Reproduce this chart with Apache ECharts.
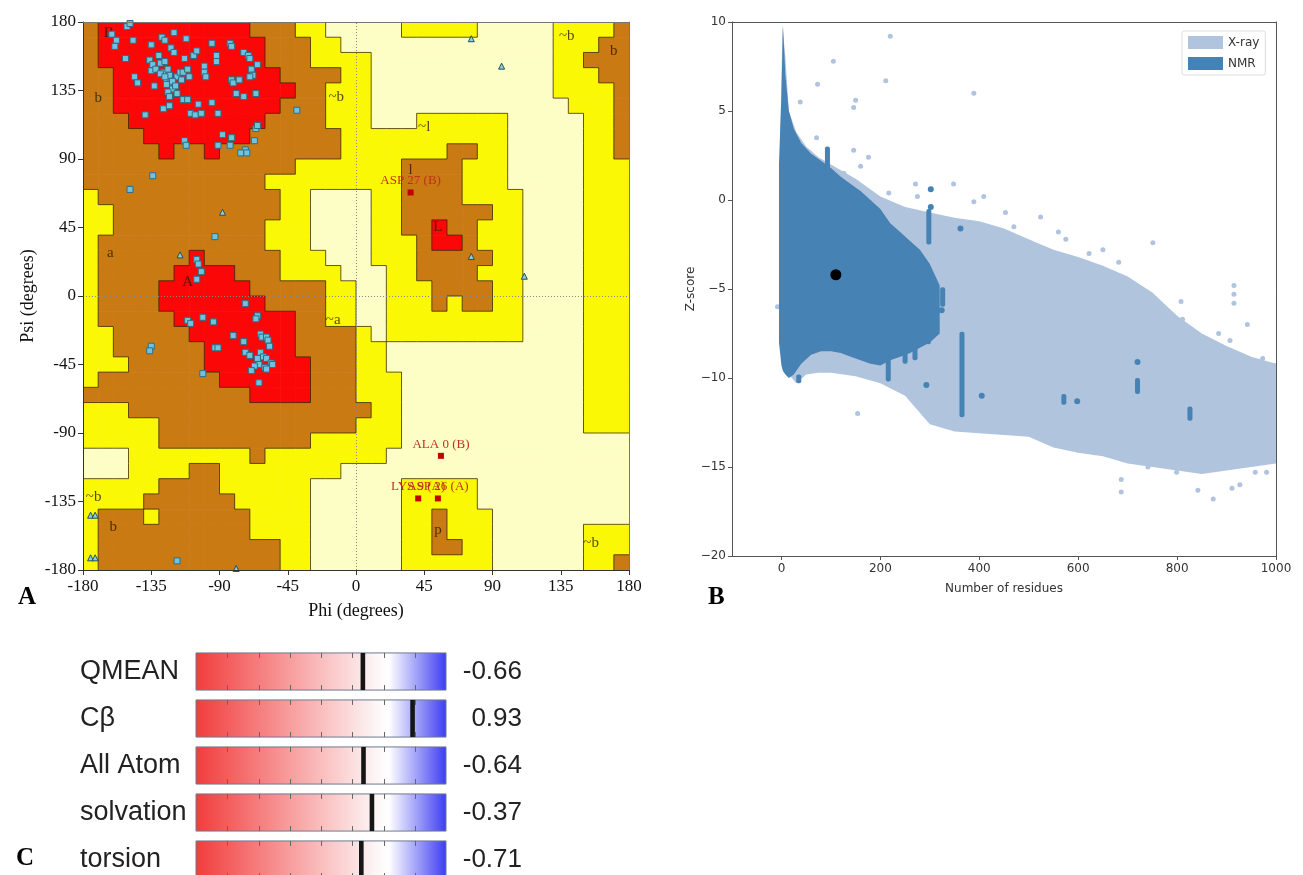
<!DOCTYPE html>
<html>
<head>
<meta charset="utf-8">
<script src="https://cdn.jsdelivr.net/npm/echarts@6/dist/echarts.min.js"></script>
<style>
html, body { margin: 0; padding: 0; background: #fff; }
#chart { width: 1303px; height: 875px; }
</style>
</head>
<body>
<div id="chart"></div>
<script>
// ---------- Panel A: Ramachandran plot ----------
// one string per 10 degree psi row, from psi 180 (top) down to -180, 36 cells of phi each
// 0 = disallowed, 1 = generously allowed, 2 = allowed, 3 = most favoured
var regionRows = [
    '2 3333333333 2 22 11 00000 11111 00000 1111 2',
    '2 33333333333 222 11 00000000000000 11 1 2 2',
    '2 33333333333 222 1111 000000000000 11 222',
    '22 33333333333 2222 11 000000000000 111 22',
    '22 333333333333 22 111 000000000000 1111 2',
    '22 33333333333 222 111 0000000000000 111 2',
    '222 333333333 2222 111 000 111111 00000 11 2',
    '2222 3333333 222222 11 111111111 00000 11 2',
    '22222 3 22 3 22222222 11 11111 22 11 00000 11 2',
    '22222222222222 11111 11 2222 111 00000 111',
    '222222222222 1111111 11 2222 111 00000 111',
    '1 222222222222 11 0000 11 2222 1111 0000 111',
    '11 22222222222 11 0000 11 222222 11 0000 111',
    '11 2222222222 111 0000 11 22 3 22 111 0000 111',
    '1 22222222222 111 0000 111 2 33 2 111 0000 111',
    '1 222222 3 22222 111 000 111 22222 11 0000 111',
    '1 22222 3333 222 1111 000 11 2222 111 0000 111',
    '1 2222 333333 22222 11 00 111 2222 11 0000 111',
    '1 2222 3333333 2222 11 00 111 2 1 22 11 0000 111',
    '1 22222 33333333 22 11 00 111111111 0000 111',
    '11 22222 3333333 2222 1 0 111111111 0000 111',
    '11 222222 333333 2222 11 0000000000000 111',
    '111 22222 3333333 222 11 0000000000000 111',
    '1 22222222 333333 222 111 000000000000 111',
    '22222222222 3333 222 111 000000000000 111',
    '111 2222222222222222 11 000000000000 111',
    '11111 2222222222222 111 000000000000 111',
    '11111 2222222222 111111 000000000000000',
    '000 11111111 2 11111111 0000000000000000',
    '000 1111 22 11111111 0000000000000000000',
    '11111 2222 111111 000000 11111 0000000000',
    '1111 222222 11111 000000 11111 0000000000',
    '1 222 1 222222 1111 000000 11 2 111 000000000',
    '1 2222222222 1111 000000 11 2 111 000000 111',
    '1 222222222222 11 000000 11 22 11 000000 111',
    '1 222222222222 11 000000 111111 000000 11 2'
];

// [phi, psi] of residues (squares)
var residuePoints = [
    [-161,172],[-158,168],[-159,164],[-151,177],[-149,179],[-152,156],[-147,168],[-146,144],[-144,140],
    [-139,119],[-135,165],[-136,155],[-135,148],[-133,138],[-130,158],[-129,153],[-128,170],[-126,168],
    [-127,147],[-125,142],[-124,149],[-123,145],[-122,140],[-121,136],[-120,173],[-122,163],[-120,160],
    [-118,144],[-116,147],[-114,147],[-115,142],[-112,169],[-113,156],[-111,149],[-110,144],[-109,120],
    [-106,119],[-104,126],[-102,120],[-100,151],[-100,147],[-99,144],[-95,166],[-95,127],[-92,158],
    [-92,154],[-91,120],[-88,106],[-83,166],[-82,164],[-82,142],[-81,140],[-79,133],[-74,131],[-77,142],
    [-74,160],[-71,158],[-70,156],[-69,149],[-68,145],[-70,144],[-66,133],[-65,152],[-66,110],[-67,102],
    [-73,96],[-76,94],[-83,99],[-82,104],[-91,99],[-113,102],[-112,99],[-114,129],[-111,129],[-127,123],
    [-123,125],[-134,152],[-132,149],[-129,146],[-126,154],[-107,158],[-105,161],[-125,139],[-121,141],
    [-124,134],[-119,138],[-126,144],[-118,133],[-123,131],[-39,122],[-72,94],[-65,112],[-134,79],
    [-149,70],[-93,39],[-105,24],[-104,21],[-102,16],[-105,11],
    [-73,-5],[-65,-13],[-66,-15],[-111,-16],[-109,-18],[-101,-14],[-94,-17],[-81,-26],[-74,-30],
    [-93,-34],[-91,-34],[-63,-25],[-62,-27],[-59,-27],[-58,-29],[-57,-33],[-73,-37],[-63,-37],
    [-70,-39],[-65,-41],[-61,-40],[-59,-41],[-56,-44],[-64,-45],[-60,-47],[-67,-46],[-69,-49],
    [-59,-48],[-55,-45],[-64,-57],[-101,-51],[-135,-33],[-136,-36],[-118,-174]
];

// glycines (triangles)
var glycinePoints = [
    [-88,55],[-116,27],[-175,-144],[-172,-144],[-175,-172],[-172,-172],[-79,-179],
    [76,169],[96,151],[76,26],[111,13]
];

var outlierNames = ['ASP 27 (B)', 'ALA 0 (B)', 'LYS 9 (A)', 'ASP 26 (A)'];
var outlierPoints = [[36,68],[56,-105],[41,-133],[54,-133]];

var regionLabelNames = ['B','b','a','A','~b','~l','l','L','~b','b','~a','~b','b','p','~b'];
var regionLabelPoints = [
    [-163,173],[-170,130],[-162,28],[-111,9],[-13,131],[45,111],[36,83],[54,45],
    [139,171],[170,161],[-15,-16],[-173,-132],[-160,-152],[54,-154],[155,-162]
];

// ---------- Panel B: Z-score against protein size ----------
var xrayX     = [-4, 2, 8, 15, 30, 50, 75, 100, 150, 200, 250, 300, 350, 400, 450, 500, 550, 600, 650, 700, 750, 800, 850, 900, 950, 1000];
var xrayUpper = [1, 9.8, 8, 5, 3.8, 3, 2.4, 2, 1.2, 0.2, -0.4, -0.7, -1, -1.2, -1.6, -2.2, -2.8, -3.2, -3.7, -4.3, -5.2, -6.5, -7.5, -8.2, -8.8, -9.2];
var xrayLower = [-8, -9, -9.5, -9.8, -10.3, -9.8, -9.7, -9.7, -9.9, -10.3, -11, -12.6, -13, -13.1, -13.2, -13.3, -13.9, -14.2, -14.4, -14.8, -15, -15.2, -15.4, -15.2, -15, -14.8];
var xrayDots = [
    [220,9.2],[105,7.8],[73,6.5],[211,6.7],[389,6],[146,5.2],[150,5.6],[38,5.5],[71,3.5],[146,2.8],
    [176,2.4],[160,1.9],[126,1.5],[271,0.9],[348,0.9],[217,0.4],[275,0.2],[389,-0.1],[409,0.2],
    [453,-0.7],[524,-0.95],[575,-2.2],[751,-2.4],[622,-3],[682,-3.5],[915,-4.8],[915,-5.3],
    [915,-5.8],[808,-5.7],[713,-5.2],[737,-5.9],[776,-7.6],[811,-6.7],[834,-7.5],[884,-7.5],
    [907,-7.9],[942,-7],[973,-8.9],[996,-9.3],[154,-12],[799,-15.3],[842,-16.3],[873,-16.8],
    [911,-16.2],[927,-16],[958,-15.3],[981,-15.3],[687,-15.7],[687,-16.4],[741,-15],[633,-14.2],
    [-8,-6],[470,-1.5],[560,-1.8],[650,-2.8]
];
var nmrX     = [-5, 0, 3, 8, 15, 25, 40, 60, 80, 100, 120, 140, 160, 180, 200, 220, 240, 260, 280, 300, 320];
var nmrUpper = [2, 6, 9.8, 7, 5, 4, 3.2, 2.6, 2.2, 1.8, 1.3, 0.9, 0.5, 0, -0.5, -1.3, -1.8, -2.3, -2.8, -3.6, -4.8];
var nmrLower = [-8, -9.3, -9.6, -9.8, -10, -9.8, -9.2, -8.7, -8.5, -8.5, -8.6, -8.8, -9, -9.2, -9.3, -9, -8.8, -8.6, -8.3, -8, -7.5];
// [residues, top z-score, bottom z-score]
var nmrStreaks = [
    [93,3,0.6],[298,-0.5,-2.5],[284,-3.3,-4.5],[326,-4.9,-6],[297,-5.9,-8.1],[365,-7.4,-12.2],
    [216,-8,-10.2],[250,-6.7,-9.2],[270,-6.5,-9],[571,-10.9,-11.5],[720,-10,-10.9],[826,-11.6,-12.4],
    [35,-9.8,-10.3]
];
var nmrDots = [[302,0.6],[302,-0.4],[362,-1.6],[293,-10.4],[405,-11],[598,-11.3],[720,-9.1],[19,-9.6],[324,-6.2]];
var modelPoint = [[110, -4.2]];

// ---------- Panel C: QMEAN local scores ----------
var metricNames = ['QMEAN', 'C\u03b2', 'All Atom', 'solvation', 'torsion'];
var metricScores = [-0.66, 0.93, -0.64, -0.37, -0.71];

// ---------- build ----------
var regionColors = ['#fdfdc6', '#fbf805', '#c97a12', '#fb0707'];
var serif = 'Liberation Serif';

var grid = regionRows.map(function (row) {
    var s = row.replace(/ /g, '');
    while (s.length < 36) s += '0';
    return s.slice(0, 36);
});

var cellData = [];
var edgeData = [];
grid.forEach(function (s, r) {
    for (var c = 0; c < 36; c++) {
        var v = s.charAt(c);
        cellData.push([-180 + 10 * c, 170 - 10 * r, +v]);
        if (c < 35 && s.charAt(c + 1) !== v) {
            edgeData.push([-170 + 10 * c, 180 - 10 * r, -170 + 10 * c, 170 - 10 * r]);
        }
        if (r < 35 && grid[r + 1].charAt(c) !== v) {
            edgeData.push([-180 + 10 * c, 170 - 10 * r, -170 + 10 * c, 170 - 10 * r]);
        }
    }
});

function bandRender(xs, up, low, color) {
    return function (params, api) {
        var pts = [];
        for (var i = 0; i < xs.length; i++) pts.push(api.coord([xs[i], up[i]]));
        for (var j = xs.length - 1; j >= 0; j--) pts.push(api.coord([xs[j], low[j]]));
        return { type: 'polygon', shape: { points: pts }, style: { fill: color } };
    };
}

var minusFmt = function (v) { return String(v).replace('-', '\u2212'); };
var bTicks = [0, 200, 400, 600, 800, 1000];
var bText = { fontFamily: 'DejaVu Sans', fontSize: 12, color: '#333' };

function frameAxis(gridIndex, pos, min, max, color) {
    return {
        gridIndex: gridIndex, type: 'value', min: min, max: max, position: pos, z: 10,
        axisLine: { show: true, onZero: false, lineStyle: { color: color, width: 1 } },
        axisTick: { show: false }, axisLabel: { show: false }, splitLine: { show: false }
    };
}

var chart = echarts.init(document.getElementById('chart'));

chart.setOption({
    animation: false,
    backgroundColor: '#fff',
    grid: [
        { left: 83, top: 22, width: 546, height: 548, outerBoundsMode: 'none' },
        { left: 732, top: 22, width: 544, height: 534, outerBoundsMode: 'none' },
        { left: 196, top: 648, width: 250, height: 235, outerBoundsMode: 'none' }
    ],
    xAxis: [
        {
            gridIndex: 0, type: 'value', min: -180, max: 180, interval: 45, z: 10,
            name: 'Phi (degrees)', nameLocation: 'middle', nameGap: 32,
            nameTextStyle: { fontFamily: serif, fontSize: 18, color: '#111' },
            axisLine: { show: true, onZero: false, lineStyle: { color: '#333', width: 1 } },
            axisTick: { show: true, length: 5, lineStyle: { color: '#333' } },
            axisLabel: { fontFamily: serif, fontSize: 17, color: '#111', margin: 8 },
            splitLine: { show: false }
        },
        frameAxis(0, 'top', -180, 180, '#777'),
        {
            gridIndex: 1, type: 'value', min: -100, max: 1000, z: 10,
            name: 'Number of residues', nameLocation: 'middle', nameGap: 27,
            nameTextStyle: bText,
            axisLine: { show: true, onZero: false, lineStyle: { color: '#555', width: 1 } },
            axisTick: { show: true, length: 4, customValues: bTicks, lineStyle: { color: '#555' } },
            axisLabel: {
                customValues: bTicks, fontFamily: 'DejaVu Sans', fontSize: 12, color: '#333', margin: 7,
                formatter: function (v) { return String(v); }
            },
            splitLine: { show: false }
        },
        frameAxis(1, 'top', -100, 1000, '#555'),
        { gridIndex: 2, type: 'value', min: -6, max: 2, show: false }
    ],
    yAxis: [
        {
            gridIndex: 0, type: 'value', min: -180, max: 180, interval: 45, z: 10,
            name: 'Psi (degrees)', nameLocation: 'middle', nameGap: 46, nameRotate: 90,
            nameTextStyle: { fontFamily: serif, fontSize: 18, color: '#111' },
            axisLine: { show: true, onZero: false, lineStyle: { color: '#333', width: 1 } },
            axisTick: { show: true, length: 5, lineStyle: { color: '#333' } },
            axisLabel: { fontFamily: serif, fontSize: 17, color: '#111', margin: 7 },
            splitLine: { show: false }
        },
        frameAxis(0, 'right', -180, 180, '#777'),
        {
            gridIndex: 1, type: 'value', min: -20, max: 10, interval: 5, z: 10,
            name: 'Z-score', nameLocation: 'middle', nameGap: 31, nameRotate: 90,
            nameTextStyle: bText,
            axisLine: { show: true, onZero: false, lineStyle: { color: '#555', width: 1 } },
            axisTick: { show: true, length: 4, lineStyle: { color: '#555' } },
            axisLabel: { fontFamily: 'DejaVu Sans', fontSize: 12, color: '#333', margin: 6, formatter: minusFmt },
            splitLine: { show: false }
        },
        frameAxis(1, 'right', -20, 10, '#555'),
        {
            gridIndex: 2, type: 'category', data: metricNames, inverse: true,
            axisLine: { show: false }, axisTick: { show: false }, splitLine: { show: false },
            axisLabel: { fontFamily: 'Liberation Sans', fontSize: 27, color: '#222', margin: 116, align: 'left' }
        }
    ],
    legend: {
        data: ['X-ray', 'NMR'], orient: 'vertical', left: 1182, top: 31,
        icon: 'rect', itemWidth: 35, itemHeight: 13, itemGap: 8, selectedMode: false,
        textStyle: { fontFamily: 'DejaVu Sans', fontSize: 12, color: '#333' },
        backgroundColor: '#fff', borderColor: '#ddd', borderWidth: 1, borderRadius: 2, padding: [5, 6, 5, 6]
    },
    graphic: [
        { type: 'text', left: 18, top: 585, style: { text: 'A', font: 'bold 25px "Liberation Serif"', fill: '#000' } },
        { type: 'text', left: 708, top: 585, style: { text: 'B', font: 'bold 25px "Liberation Serif"', fill: '#000' } },
        { type: 'text', left: 16, top: 846, style: { text: 'C', font: 'bold 25px "Liberation Serif"', fill: '#000' } }
    ],
    series: [
        // Ramachandran region cells
        {
            type: 'custom', xAxisIndex: 0, yAxisIndex: 0, silent: true, clip: true, z: 1,
            data: cellData, encode: { x: 0, y: 1 },
            renderItem: function (params, api) {
                var p0 = api.coord([api.value(0), api.value(1) + 10]);
                var p1 = api.coord([api.value(0) + 10, api.value(1)]);
                return {
                    type: 'rect',
                    shape: { x: p0[0], y: p0[1], width: p1[0] - p0[0] + 0.6, height: p1[1] - p0[1] + 0.6 },
                    style: { fill: regionColors[api.value(2)] }
                };
            }
        },
        // region boundaries
        {
            type: 'custom', xAxisIndex: 0, yAxisIndex: 0, silent: true, clip: true, z: 2,
            data: edgeData, encode: { x: [0, 2], y: [1, 3] },
            renderItem: function (params, api) {
                var a = api.coord([api.value(0), api.value(1)]);
                var b = api.coord([api.value(2), api.value(3)]);
                return {
                    type: 'line',
                    shape: { x1: a[0], y1: a[1], x2: b[0], y2: b[1] },
                    style: { stroke: 'rgba(50,35,0,0.75)', lineWidth: 1 }
                };
            }
        },
        // region labels + zero lines
        {
            type: 'scatter', xAxisIndex: 0, yAxisIndex: 0, silent: true, z: 4, symbolSize: 0,
            data: regionLabelPoints.map(function (p, i) { return { name: regionLabelNames[i], value: p }; }),
            label: {
                show: true, position: 'inside', formatter: '{b}',
                fontFamily: serif, fontSize: 15, color: '#2a1a00'
            },
            markLine: {
                silent: true, symbol: 'none', label: { show: false },
                lineStyle: { color: '#888', type: [1, 2], width: 1 },
                data: [{ xAxis: 0 }, { yAxis: 0 }]
            }
        },
        {
            type: 'scatter', xAxisIndex: 0, yAxisIndex: 0, silent: true, z: 6,
            symbol: 'rect', symbolSize: 6, data: residuePoints,
            itemStyle: { color: '#6fc3dc', borderColor: '#2f6d88', borderWidth: 1, opacity: 1 }
        },
        {
            type: 'scatter', xAxisIndex: 0, yAxisIndex: 0, silent: true, z: 6,
            symbol: 'triangle', symbolSize: 6, data: glycinePoints,
            itemStyle: { color: '#8fd0d0', borderColor: '#1f4f6a', borderWidth: 1, opacity: 1 }
        },
        {
            type: 'scatter', xAxisIndex: 0, yAxisIndex: 0, silent: true, z: 7,
            symbol: 'rect', symbolSize: 6,
            data: outlierPoints.map(function (p, i) { return { name: outlierNames[i], value: p }; }),
            itemStyle: { color: '#c40000', opacity: 1 },
            label: {
                show: true, position: 'top', distance: 2, formatter: '{b}',
                fontFamily: serif, fontSize: 13, color: '#c0301e'
            }
        },

        // Panel B
        {
            name: 'X-ray', type: 'custom', xAxisIndex: 2, yAxisIndex: 2, silent: true, clip: true, z: 2,
            data: [[xrayX[0], xrayUpper[0]]], encode: { x: 0, y: 1 },
            itemStyle: { color: '#b0c4de' },
            renderItem: bandRender(xrayX, xrayUpper, xrayLower, '#b0c4de')
        },
        {
            name: 'X-ray', type: 'scatter', xAxisIndex: 2, yAxisIndex: 2, silent: true, z: 2,
            symbolSize: 5, data: xrayDots, itemStyle: { color: '#b0c4de', opacity: 1 }
        },
        {
            name: 'NMR', type: 'custom', xAxisIndex: 2, yAxisIndex: 2, silent: true, clip: true, z: 3,
            data: [[nmrX[0], nmrUpper[0]]], encode: { x: 0, y: 1 },
            itemStyle: { color: '#4682b4' },
            renderItem: bandRender(nmrX, nmrUpper, nmrLower, '#4682b4')
        },
        {
            name: 'NMR', type: 'custom', xAxisIndex: 2, yAxisIndex: 2, silent: true, clip: true, z: 3,
            data: nmrStreaks, encode: { x: 0, y: [1, 2] },
            itemStyle: { color: '#4682b4' },
            renderItem: function (params, api) {
                var t = api.coord([api.value(0), api.value(1)]);
                var b = api.coord([api.value(0), api.value(2)]);
                return {
                    type: 'rect',
                    shape: { x: t[0] - 2.5, y: t[1], width: 5, height: b[1] - t[1], r: 2 },
                    style: { fill: '#4682b4' }
                };
            }
        },
        {
            name: 'NMR', type: 'scatter', xAxisIndex: 2, yAxisIndex: 2, silent: true, z: 3,
            symbolSize: 6, data: nmrDots, itemStyle: { color: '#4682b4', opacity: 1 }
        },
        {
            type: 'scatter', xAxisIndex: 2, yAxisIndex: 2, silent: true, z: 5,
            symbolSize: 11, data: modelPoint, itemStyle: { color: '#000', opacity: 1 }
        },

        // Panel C
        {
            type: 'custom', xAxisIndex: 4, yAxisIndex: 4, silent: true, z: 2,
            data: metricScores.map(function (s, i) { return [s, i]; }), encode: { x: 0, y: 1 },
            renderItem: function (params, api) {
                var idx = api.value(1);
                var score = api.value(0);
                var l = api.coord([-6, idx]);
                var r = api.coord([2, idx]);
                var h = api.size([0, 1])[1] * 0.79;
                var top = l[1] - h / 2;
                var kids = [{
                    type: 'rect',
                    shape: { x: l[0], y: top, width: r[0] - l[0], height: h },
                    style: {
                        fill: new echarts.graphic.LinearGradient(0, 0, 1, 0, [
                            { offset: 0, color: '#f23c3c' },
                            { offset: 0.72, color: '#fdf6f6' },
                            { offset: 0.77, color: '#ffffff' },
                            { offset: 1, color: '#3c3cf2' }
                        ]),
                        stroke: '#6f7a8e', lineWidth: 1
                    }
                }];
                for (var t = -5; t <= 1; t++) {
                    var tx = Math.round(api.coord([t, idx])[0]) + 0.5;
                    kids.push({ type: 'line', shape: { x1: tx, y1: top, x2: tx, y2: top + 5 }, style: { stroke: '#666', lineWidth: 1 } });
                    kids.push({ type: 'line', shape: { x1: tx, y1: top + h - 5, x2: tx, y2: top + h }, style: { stroke: '#666', lineWidth: 1 } });
                }
                var mx = api.coord([score, idx])[0];
                kids.push({ type: 'rect', shape: { x: mx - 2.3, y: top, width: 4.6, height: h }, style: { fill: '#151515' } });
                kids.push({
                    type: 'text', x: r[0] + 76, y: l[1],
                    style: {
                        text: score.toFixed(2), align: 'right', verticalAlign: 'middle',
                        fontFamily: 'Liberation Sans', fontSize: 26, fill: '#222'
                    }
                });
                return { type: 'group', children: kids };
            }
        }
    ]
});
</script>
</body>
</html>
